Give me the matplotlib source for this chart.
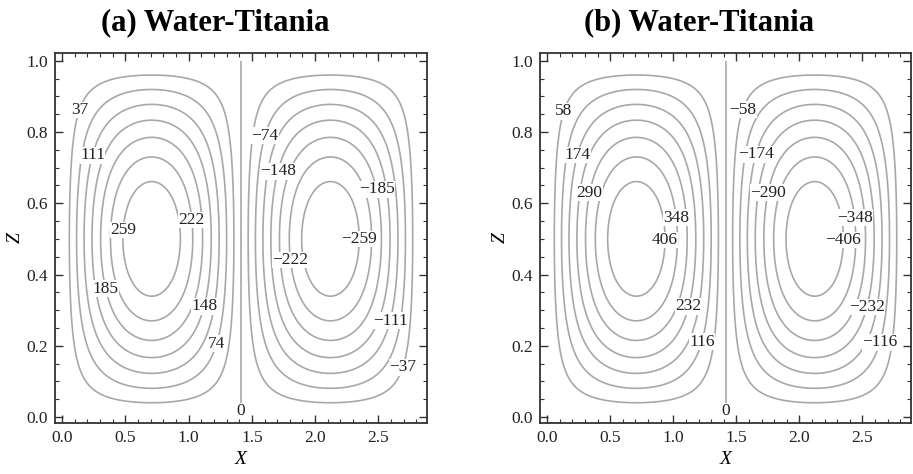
import numpy as np
import matplotlib.pyplot as plt
from matplotlib.ticker import MultipleLocator, FormatStrFormatter

# Kavitetens bredd (2*sqrt(2)) och höjd
bredd = 2*np.sqrt(2)
hojd = 1.0

# Strömfunktionens maxvärde för de två fallen
psimax_a = 296
psimax_b = 464

# Konturnivåer
nivaer_a = [-259, -222, -185, -148, -111, -74, -37, 0, 37, 74, 111, 148, 185, 222, 259]
nivaer_b = [-406, -348, -290, -232, -174, -116, -58, 0, 58, 116, 174, 232, 290, 348, 406]

# Ungefärliga platser för konturetiketterna (x, z)
etiketter_a = [(0.135, 0.862), (0.23, 0.736), (0.47, 0.525), (1.03, 0.553), (0.34, 0.36),
               (1.13, 0.31), (1.23, 0.205), (1.41, 0.017),
               (1.60, 0.79), (1.70, 0.69), (2.50, 0.64), (2.37, 0.50), (1.79, 0.44),
               (2.60, 0.27), (2.69, 0.14)]
etiketter_b = [(0.10, 0.862), (0.24, 0.736), (0.33, 0.63), (1.03, 0.56), (0.94, 0.497),
               (1.13, 0.31), (1.24, 0.21), (1.41, 0.017),
               (1.56, 0.862), (1.67, 0.736), (1.75, 0.63), (2.44, 0.56), (2.33, 0.497),
               (2.52, 0.31), (2.63, 0.21)]

titlar = ["(a) Water-Titania", "(b) Water-Titania"]

plt.rcParams['font.family'] = ['Liberation Serif', 'DejaVu Serif']

x = np.linspace(0.0005, bredd-0.0005, 601)
z = np.linspace(0.0005, hojd-0.0005, 301)
X, Z = np.meshgrid(x, z)
form = np.sin(np.pi*X/np.sqrt(2))*np.sin(np.pi*Z)

def etikett(v):
    v = int(round(v))
    if v < 0:
        return "\u2212" + str(-v)
    return str(v)

fig = plt.figure(figsize=(9.13, 4.74), dpi=100)
rutor = [[55/913, 1-423/474, 372/913, 370/474], [540/913, 1-423/474, 371/913, 370/474]]
titelx = [215/913, 699/913]

for i, (psimax, nivaer, etiketter) in enumerate([(psimax_a, nivaer_a, etiketter_a),
                                                  (psimax_b, nivaer_b, etiketter_b)]):
    ax = fig.add_axes(rutor[i])
    cs = ax.contour(X, Z, psimax*form, levels=nivaer, colors="#a8a8a8", linewidths=1.2,
                    linestyles="solid")
    texter = ax.clabel(cs, inline=False, fontsize=12.5, fmt=etikett, manual=etiketter,
                       colors="#222222")
    for t in texter:
        t.set_rotation(0)
        t.set_bbox(dict(facecolor="white", edgecolor="none", pad=0.3))
    ax.set_xlim(-0.057, 2.885)
    ax.set_ylim(-0.017, 1.022)
    ax.xaxis.set_major_locator(MultipleLocator(0.5))
    ax.xaxis.set_minor_locator(MultipleLocator(0.1))
    ax.yaxis.set_major_locator(MultipleLocator(0.2))
    ax.yaxis.set_minor_locator(MultipleLocator(0.05))
    ax.xaxis.set_major_formatter(FormatStrFormatter("%.1f"))
    ax.yaxis.set_major_formatter(FormatStrFormatter("%.1f"))
    ax.tick_params(which="both", direction="in", top=True, right=True, colors="#333333",
                   labelcolor="#222222", labelsize=12.5)
    ax.tick_params(which="major", length=6, width=1.0, pad=5)
    ax.tick_params(which="minor", length=3, width=0.8)
    for s in ax.spines.values():
        s.set_color("#333333")
        s.set_linewidth(1.3)
    ax.set_xlabel("X", fontsize=14, style="italic")
    ax.set_ylabel("Z", fontsize=14, style="italic")
    ax.xaxis.set_label_coords(0.5, -0.075)
    ax.yaxis.set_label_coords(-0.085, 0.5)
    fig.text(titelx[i], 1-23/474, titlar[i], fontsize=22, fontweight="bold",
             ha="center", va="center")

plt.savefig("out.png", dpi=100)
